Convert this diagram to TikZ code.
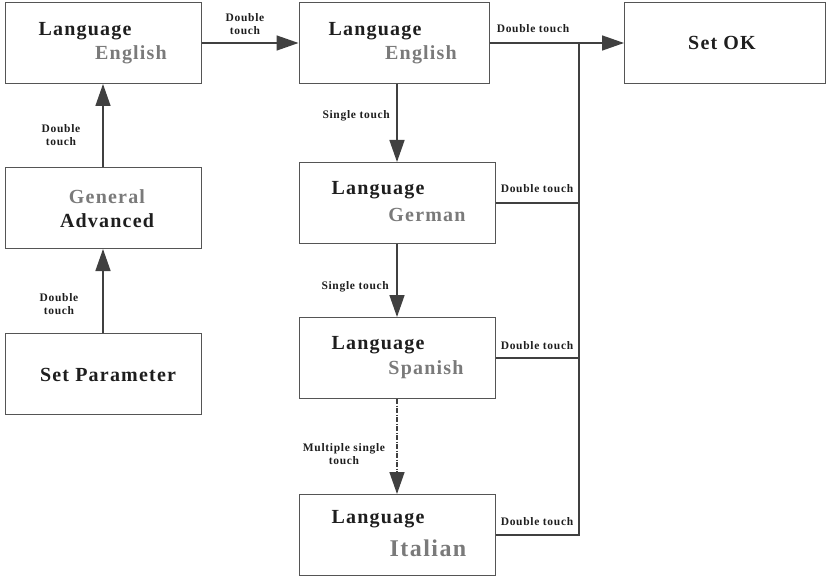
\documentclass[tikz,border=0pt]{standalone}
\usepackage{fontspec}
\newfontfamily\diagfont{Liberation Serif}[LetterSpace=6]
\usepackage{tikz}
\usetikzlibrary{arrows.meta,positioning,calc}

\definecolor{linegray}{HTML}{404040}
\definecolor{boxgray}{HTML}{555555}
\definecolor{txtdark}{HTML}{1E1E1E}
\definecolor{txtgray}{HTML}{7A7A7A}

\tikzset{
    menubox/.style={draw=boxgray, line width=1pt, minimum width=196pt, minimum height=81pt, inner sep=0pt},
    maintxt/.style={text=txtdark, font=\diagfont\bfseries\fontsize{20}{22}\selectfont, inner sep=0pt},
    subtxt/.style={text=txtgray, font=\diagfont\bfseries\fontsize{20}{22}\selectfont, inner sep=0pt},
    touchlbl/.style={text=txtdark, font=\diagfont\bfseries\fontsize{11.5}{13.5}\selectfont, align=center, inner sep=0pt},
    flow/.style={draw=linegray, line width=1.5pt, -{Triangle[length=22pt,width=15pt]}},
    branch/.style={draw=linegray, line width=1.5pt}
}

\begin{document}
\begin{tikzpicture}[x=1pt, y=-1pt]
    \useasboundingbox (0,0) rectangle (829,577);

    % left column
    \node[menubox] (enA) at (103, 43) {};
    \node[maintxt] (enAl) at (85, 31) {Language};
    \node[subtxt] (enAs) at (131, 55) {English};

    \node[menubox] (gen) at (103, 208) {};
    \node[subtxt] (genG) at (107, 197) {General};
    \node[maintxt] (genA) at (107, 221) {Advanced};

    \node[menubox] (setp) at (103, 374) {};
    \node[maintxt] (setpT) at (108, 375) {Set Parameter};

    % language list
    \node[menubox, minimum width=190pt] (enB) at (394, 43) {};
    \node[maintxt] (enBl) at (375, 31) {Language};
    \node[subtxt] (enBs) at (421, 55) {English};

    \node[menubox] (de) at (397, 203) {};
    \node[maintxt] (del) at (378, 190) {Language};
    \node[subtxt] (des) at (427, 215) {German};

    \node[menubox] (es) at (397, 358) {};
    \node[maintxt] (esl) at (378, 345) {Language};
    \node[subtxt] (ess) at (426, 370) {Spanish};

    \node[menubox] (it) at (397, 535) {};
    \node[maintxt] (itl) at (378, 519) {Language};
    \node[subtxt, font=\diagfont\bfseries\fontsize{24}{26}\selectfont] (its) at (428, 548) {Italian};

    \node[menubox, minimum width=201pt] (ok) at (725, 43) {};
    \node[maintxt] (okT) at (722, 43) {Set OK};

    \coordinate (j) at (579, 43);

    % arrows
    \draw[flow] (setp) -- (gen);
    \draw[flow] (gen) -- (enA);
    \draw[flow] (enA) -- (enB);
    \draw[flow] (enB) -- (ok);
    \draw[flow] (enB.south -| de.north) -- (de.north);
    \draw[flow] (de) -- (es);
    \draw[flow, dash pattern=on 5pt off 1.5pt on 1pt off 1.5pt] (es) -- (it);

    \draw[branch] (it.east) -| (j);
    \draw[branch] (de.east) -- (de.east -| j);
    \draw[branch] (es.east) -- (es.east -| j);

    % labels
    \node[touchlbl] (t1) at (61, 135) {Double\\touch};
    \node[touchlbl] (t2) at (59, 304) {Double\\touch};
    \node[touchlbl] (t3) at (245, 24) {Double\\touch};
    \node[touchlbl] (t4) at (533, 29) {Double touch};
    \node[touchlbl, anchor=east] (s1) at (390, 116) {Single touch};
    \node[touchlbl, anchor=east] (s2) at (389, 287) {Single touch};
    \node[touchlbl] (m1) at (344, 454) {Multiple single\\touch};
    \node[touchlbl] (d1) at (537, 189) {Double touch};
    \node[touchlbl] (d2) at (537, 346) {Double touch};
    \node[touchlbl] (d3) at (537, 522) {Double touch};
\end{tikzpicture}
\end{document}
